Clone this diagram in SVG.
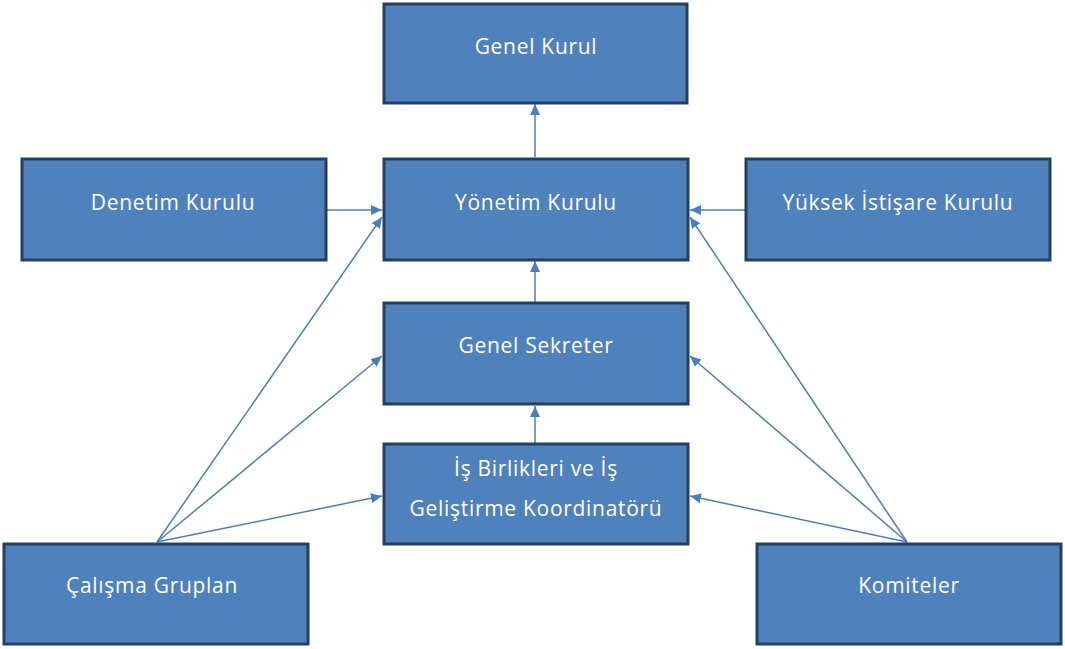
<svg xmlns="http://www.w3.org/2000/svg" width="1065" height="649" viewBox="0 0 1065 649">
<style>
.box{fill:#4F81BD;stroke:#243F60;stroke-width:3}
.lbl{fill:#FFFFFF;font-family:"Open Sans","Noto Sans",sans-serif;font-size:21px;letter-spacing:0.7px;text-anchor:middle}
.con{stroke:#4A7EBB;stroke-width:1.5;fill:none;marker-end:url(#arr)}
</style>
<defs>
<marker id="arr" markerUnits="userSpaceOnUse" markerWidth="12" markerHeight="10" refX="11" refY="5" orient="auto">
<path d="M0,0 L11,5 L0,10 Z" fill="#4A7EBB"/>
</marker>
</defs>
<rect width="1065" height="649" fill="#FFFFFF"/>
<g id="connectors">
<line class="con" x1="535" y1="157" x2="535" y2="104"/>
<line class="con" x1="327" y1="210" x2="382" y2="210"/>
<line class="con" x1="745" y1="210" x2="690" y2="210"/>
<line class="con" x1="535" y1="302" x2="535" y2="261"/>
<line class="con" x1="535" y1="443" x2="535" y2="406"/>
<line class="con" x1="157" y1="542" x2="382" y2="217"/>
<line class="con" x1="157" y1="542" x2="382" y2="356"/>
<line class="con" x1="157" y1="542" x2="382" y2="496"/>
<line class="con" x1="907" y1="542" x2="690" y2="217"/>
<line class="con" x1="907" y1="542" x2="690" y2="356"/>
<line class="con" x1="907" y1="542" x2="690" y2="496"/>
</g>
<g id="genel-kurul"><rect class="box" x="384" y="4" width="303" height="99"/><text class="lbl" x="536" y="54">Genel Kurul</text></g>
<g id="yonetim-kurulu"><rect class="box" x="384" y="159" width="304" height="101"/><text class="lbl" x="536" y="210">Yönetim Kurulu</text></g>
<g id="denetim-kurulu"><rect class="box" x="22" y="159" width="304" height="101"/><text class="lbl" x="173" y="210">Denetim Kurulu</text></g>
<g id="yuksek-istisare-kurulu"><rect class="box" x="746" y="159" width="304" height="101"/><text class="lbl" x="898" y="210">Yüksek İstişare Kurulu</text></g>
<g id="genel-sekreter"><rect class="box" x="384" y="303" width="304" height="101"/><text class="lbl" x="536" y="353">Genel Sekreter</text></g>
<g id="is-birlikleri"><rect class="box" x="384" y="444" width="304" height="100"/><text class="lbl" x="536" y="476">İş Birlikleri ve İş</text><text class="lbl" x="536" y="516">Geliştirme Koordinatörü</text></g>
<g id="calisma-gruplari"><rect class="box" x="4" y="544" width="304" height="100"/><text class="lbl" x="152" y="593">Çalışma Gruplan</text></g>
<g id="komiteler"><rect class="box" x="757" y="544" width="304" height="100"/><text class="lbl" x="909" y="593">Komiteler</text></g>
</svg>
